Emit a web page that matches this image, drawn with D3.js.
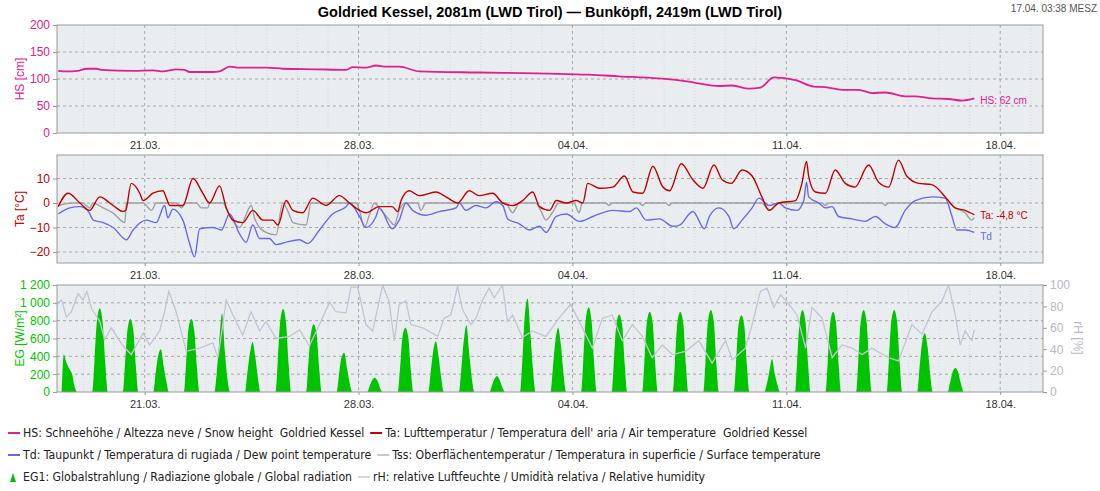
<!DOCTYPE html>
<html><head><meta charset="utf-8">
<script src="https://cdn.jsdelivr.net/npm/d3@7"></script>
<style>body{margin:0;background:#fff}svg{font-family:"Liberation Sans",Arial,sans-serif}</style>
</head><body><svg id="c" width="1100" height="491"></svg>
<script>
// time = days after 21.03. 00:00
const dateTicks=[0,7,14,21,28];
const dateLabels=["21.03.","28.03.","04.04.","11.04.","18.04."];
const hs=[[-2.83,115],[-2.56,114],[-2.2,115],[-1.9,119],[-1.58,119],[-1.41,117],[-0.38,115],[0.27,116],[0.6,114],[1.03,118],[1.3,117],[1.47,113],[2.23,113],[2.45,114],[2.78,123],[3.1,121],[3.98,121],[4.52,119],[5.61,118],[6.59,117],[6.81,122],[7.24,121],[7.57,125],[7.9,123],[8.33,123],[8.99,114],[10.95,112],[13.24,110],[14.54,108],[15.52,105],[16.83,101],[17.81,95],[18.14,92],[18.79,87],[19.23,88],[19.77,82],[20.15,84],[20.59,103],[21.3,98],[21.9,86],[22.28,85],[22.82,80],[23.37,80],[23.8,74],[24.24,75],[24.89,68],[25.22,68],[25.77,64],[26.31,63],[26.75,60],[27.15,64]];
const ta=[[-2.83,-1.5],[-2.51,4],[-2.12,0],[-1.8,-3],[-1.47,2.5],[-1.14,0],[-0.93,-2],[-0.71,-3.5],[-0.62,-3],[-0.44,8],[-0.16,4],[-0.05,1],[0.27,4],[0.6,5],[0.71,2],[0.82,-1],[1.25,-1],[1.58,10],[1.9,4],[2.12,0],[2.45,7],[2.67,-2],[2.89,-7],[3.21,-8],[3.54,-3],[3.87,-7],[4.19,-7],[4.36,-9],[4.63,1],[4.85,-3],[5.17,-4],[5.5,2],[5.94,-1],[6.37,3],[6.7,0],[7.03,-3],[7.24,-4],[7.68,-1.5],[8.1,-1.5],[8.28,-3.5],[8.39,1],[8.66,5],[8.99,3],[9.53,4.5],[9.86,2.5],[10.24,0],[10.62,5],[10.95,3],[11.39,4],[11.72,0],[12.05,-1],[12.37,1],[12.7,4.5],[12.92,-1.5],[13.25,-3],[13.47,1],[13.8,0],[14.12,1],[14.34,0],[14.5,8],[14.89,6],[15.32,6.5],[15.7,11],[15.98,4.5],[16.3,4],[16.63,15],[16.96,6.5],[17.18,5],[17.56,16],[17.94,9.5],[18.27,6],[18.63,15.5],[18.9,9.5],[19.2,8],[19.55,13.5],[19.88,11],[20.2,2.5],[20.43,-3],[20.75,0],[21.3,1],[21.51,8],[21.66,17],[21.73,11],[21.95,4.5],[22.28,4],[22.6,13.5],[22.93,8],[23.25,6.5],[23.69,15.5],[24.02,8.5],[24.35,6.5],[24.67,17.5],[24.94,11],[25.33,8],[25.76,7.5],[26.3,1],[26.52,-2],[26.85,-3],[27.15,-4.8]];
const td=[[-2.83,-4.5],[-2.45,-2],[-2.12,-1.5],[-1.84,-3.5],[-1.68,-7],[-1.36,-8],[-1.03,-10],[-0.6,-15],[-0.38,-11],[0.05,-7],[0.38,-8],[0.65,-1],[0.76,-6],[0.92,-2.5],[1.25,-7],[1.47,-16.5],[1.63,-22],[1.8,-10.5],[2.23,-10],[2.51,-11],[2.78,-4.5],[3.1,-12.5],[3.32,-16],[3.54,-9],[3.76,-14.5],[4.08,-14.5],[4.3,-17],[4.63,-16],[5.06,-15],[5.34,-16.5],[5.72,-11],[6.15,-4.5],[6.59,-1.5],[6.7,0],[7.03,-5.5],[7.24,-10],[7.57,-5.5],[7.68,-2],[8.1,-10.5],[8.33,-7],[8.55,0],[8.77,-3],[9.2,-5],[9.64,-3.5],[10.19,-2],[10.3,0],[10.51,-3],[10.84,-1],[11.17,-2],[11.5,0.5],[11.72,-1],[11.88,-6.5],[12.26,-8.5],[12.59,-11],[12.92,-9.5],[13.14,-12],[13.47,-5.5],[13.8,-4.5],[14.23,-7.5],[14.67,-5.5],[15.32,-3],[15.87,-3.5],[16.09,-2],[16.41,-7],[16.85,-6.5],[17.29,-9.5],[17.51,-9],[17.94,-3.5],[18.32,-10.5],[18.48,-5.5],[18.79,-2],[19.12,-5.5],[19.28,-10.5],[19.55,-7],[19.88,-2],[20.1,2],[20.43,-1],[20.75,0],[20.97,-2],[21.35,-3],[21.57,1],[21.66,8.5],[21.73,2.5],[22.06,0],[22.28,-2],[22.5,-1.5],[22.71,-5.5],[23.15,-6.5],[23.58,-7.5],[23.91,-5.5],[24.24,-8.5],[24.56,-10],[24.89,-3],[25.22,1],[25.76,2.5],[26.2,2],[26.41,-5],[26.58,-11],[26.85,-11],[27.15,-12]];
const tss=[[-2.83,-1],[-2.34,0],[-2.02,0],[-1.8,-2],[-1.69,0],[-1.36,-2],[-1.04,-4],[-0.65,-8],[-0.6,0],[-0.05,0],[0.22,-3],[0.38,0],[1.03,0],[1.2,-2],[1.36,0],[1.69,0],[1.85,-2],[2.07,-2],[2.12,0],[2.56,0],[2.78,-5],[3.1,-10],[3.49,-1],[3.59,-6],[3.76,-10],[3.97,-12],[4.3,-13],[4.52,0],[4.74,-5],[4.85,-8],[5.28,-9],[5.45,0],[6.92,0],[7.03,-3],[7.19,-10],[7.35,-5],[7.52,0],[7.68,-2],[8.01,-7],[8.17,-9],[8.33,-3],[8.5,0],[8.93,0],[9.04,-3],[9.2,0],[11.82,0],[12.04,-4],[12.26,0],[12.8,0],[12.96,-3],[13.13,-7],[13.34,-4],[13.56,0],[14.05,0],[14.22,-4],[14.32,0],[15.09,0],[15.2,-1],[15.3,0],[16.18,0],[16.29,-1],[16.4,0],[17.05,0],[17.16,-1],[17.27,0],[20.21,0],[20.32,-1.5],[20.48,-3],[20.75,0],[22.17,0],[22.28,-1],[22.39,0],[24.13,0],[24.24,-1],[24.35,0],[26.31,0],[26.53,-2],[26.85,-4],[27.07,-7],[27.15,-6]];
const rh=[[-2.87,83],[-2.72,86],[-2.56,70],[-2.4,75],[-2.18,92],[-2.02,86],[-1.89,94],[-1.74,78],[-1.47,66],[-1.31,49],[-1.09,60],[-0.71,43],[-0.44,35],[-0.05,55],[0.16,44],[0.49,57],[0.65,75],[0.79,94],[1.03,75],[1.36,38],[1.8,41],[2.23,46],[2.4,32],[2.67,86],[2.89,72],[3.21,53],[3.48,75],[3.76,57],[3.97,66],[4.3,50],[4.74,52],[5.07,58],[5.39,43],[5.72,63],[6.05,84],[6.26,75],[6.59,74],[6.75,98],[6.97,98],[7.24,63],[7.46,57],[7.79,100],[8.0,84],[8.17,48],[8.33,82],[8.55,85],[8.71,63],[9.1,60],[9.59,52],[9.8,69],[10.02,72],[10.24,99],[10.4,77],[10.68,63],[10.84,69],[11.06,86],[11.27,97],[11.44,88],[11.71,100],[11.87,66],[12.04,72],[12.36,51],[12.69,57],[13.13,52],[13.56,69],[13.94,82],[14.22,66],[14.65,41],[14.98,69],[15.3,72],[15.63,48],[15.96,63],[16.29,52],[16.61,32],[16.94,44],[17.27,35],[17.7,38],[18.14,48],[18.57,27],[19.01,48],[19.23,30],[19.66,41],[19.88,63],[20.15,94],[20.37,97],[20.59,79],[20.81,91],[21.08,82],[21.35,72],[21.63,41],[21.84,79],[22.17,69],[22.5,32],[22.82,44],[23.15,41],[23.48,35],[23.8,41],[24.35,32],[24.67,29],[25.11,63],[25.44,54],[25.77,75],[26.09,85],[26.31,100],[26.53,72],[26.69,44],[26.85,57],[27.07,48],[27.15,58]];
// global radiation per day: values at 08:30,10:30,12:45,15:00,17:00 h
const egHours=[8.5,10.5,12.75,15,17];
const egDays=[-3,-2,-1,0,1,2,3,4,5,6,7,8,9,10,11,12,13,14,15,16,17,18,19,20,21,22,23,24,25,26];
const egVals=[[420,330,260,200,60],[330,800,940,780,330],[300,700,820,700,300],[200,400,480,280,120],[320,720,820,680,280],[200,550,880,450,150],[200,420,560,380,150],[340,800,930,780,320],[300,650,760,660,280],[180,380,440,260,100],[60,130,160,120,40],[250,620,720,620,250],[200,450,570,380,150],[220,560,750,420,150],[60,140,180,130,50],[320,850,1050,650,250],[250,560,720,520,200],[350,820,950,800,330],[330,760,870,760,320],[330,790,900,780,320],[330,790,900,780,320],[340,800,920,790,330],[320,760,860,740,300],[80,220,370,200,80],[340,800,920,790,330],[330,780,900,780,320],[340,800,920,790,330],[340,800,920,790,330],[250,540,660,500,200],[100,220,270,220,100]];

const svg=d3.select("#c");
const L=57,R=1043;
const x=d3.scaleLinear().domain([-2.87,29.4]).range([L,R]);
const C={hs:"#e0208c",ta:"#c00000",td:"#6a6ae6",tss:"#a0a0a0",rh:"#c4c4d4",eg:"#00c400",grid:"#a8a8a8"};
svg.append("text").attr("x",550).attr("y",17).attr("text-anchor","middle").attr("font-weight","bold").attr("font-size",14.5).text("Goldried Kessel, 2081m (LWD Tirol) — Bunköpfl, 2419m (LWD Tirol)");
svg.append("text").attr("x",1097).attr("y",12).attr("text-anchor","end").attr("font-size",10).attr("fill","#555").text("17.04. 03:38 MESZ");

function panel(top,bot,y,ticks,fmt,col,label){
  const g=svg.append("g");
  g.append("rect").attr("x",L).attr("y",top).attr("width",R-L).attr("height",bot-top).attr("fill","#e9edf0");
  for(let d=-2;d<=29;d++){ if(dateTicks.includes(d))continue;
    g.append("line").attr("x1",x(d)).attr("x2",x(d)).attr("y1",top).attr("y2",bot).attr("stroke","#d6dadd").attr("stroke-dasharray","1,2");}
  dateTicks.forEach(d=>g.append("line").attr("x1",x(d)).attr("x2",x(d)).attr("y1",top).attr("y2",bot).attr("stroke",C.grid).attr("stroke-dasharray","3,3"));
  ticks.forEach(v=>{ if(y(v)>top+1&&y(v)<bot-1) g.append("line").attr("x1",L).attr("x2",R).attr("y1",y(v)).attr("y2",y(v)).attr("stroke",C.grid).attr("stroke-dasharray","3,3");});
  const ax=g.append("g").attr("transform",`translate(${L},0)`).call(d3.axisLeft(y).tickValues(ticks).tickFormat(fmt).tickSize(4));
  ax.select(".domain").remove();ax.selectAll("line").attr("stroke","#999");
  ax.selectAll("text").attr("fill",col).attr("font-size",12).attr("font-family","Liberation Sans, Arial");
  const xa=g.append("g").attr("transform",`translate(0,${bot})`).call(d3.axisBottom(x).tickValues(dateTicks).tickFormat((d,i)=>dateLabels[i]).tickSize(3));
  xa.select(".domain").remove();xa.selectAll("line").attr("stroke","#999");
  xa.selectAll("text").attr("font-size",11).attr("fill","#333").attr("font-family","Liberation Sans, Arial").attr("dy","0.9em");
  svg.append("text").attr("transform",`translate(24,${(top+bot)/2}) rotate(-90)`).attr("text-anchor","middle").attr("fill",col).attr("font-size",12).text(label);
  return g;
}
function frame(top,bot){svg.append("rect").attr("x",L).attr("y",top).attr("width",R-L).attr("height",bot-top).attr("fill","none").attr("stroke","#9a9a9a");}
function clip(id,top,bot){svg.append("clipPath").attr("id",id).append("rect").attr("x",L).attr("y",top).attr("width",R-L).attr("height",bot-top);}

// Panel 1
const y1=d3.scaleLinear().domain([0,200]).range([133,25]);
panel(25,133,y1,[0,50,100,150,200],d3.format("d"),C.hs,"HS [cm]");
svg.append("path").datum(hs).attr("fill","none").attr("stroke",C.hs).attr("stroke-width",1.8)
 .attr("d",d3.line().x(d=>x(d[0])).y(d=>y1(d[1])).curve(d3.curveMonotoneX));
frame(25,133);
svg.append("text").attr("x",x(27.15)+6).attr("y",y1(62)+4).attr("fill",C.hs).attr("font-size",10).text("HS: 62 cm");

// Panel 2
const y2=d3.scaleLinear().domain([-24.5,19.6]).range([263,155]);
panel(155,263,y2,[-20,-10,0,10],d3.format("d"),C.ta,"Ta [°C]");
clip("c2",155,263);
const ln=d3.line().x(d=>x(d[0])).y(d=>y2(d[1])).curve(d3.curveMonotoneX);
[[tss,C.tss],[td,C.td],[ta,C.ta]].forEach(([s,c])=>svg.append("path").datum(s).attr("clip-path","url(#c2)").attr("fill","none").attr("stroke",c).attr("stroke-width",1.4).attr("d",ln));
frame(155,263);
svg.append("text").attr("x",x(27.15)+6).attr("y",y2(-4.8)+4).attr("fill",C.ta).attr("font-size",10).text("Ta: -4,8 °C");
svg.append("text").attr("x",x(27.15)+6).attr("y",y2(-12)+8).attr("fill",C.td).attr("font-size",10).text("Td");

// Panel 3
const y3=d3.scaleLinear().domain([0,1200]).range([392,285]);
const y3r=d3.scaleLinear().domain([0,100]).range([392,285]);
panel(285,392,y3,[0,200,400,600,800,1000,1200],v=>d3.format(",")(v).replace(","," "),C.eg,"EG [W/m²]");
clip("c3",285,392);
const egPts=[];
egDays.forEach((d,i)=>{egPts.push([d+6.8/24,0]);egHours.forEach((h,j)=>egPts.push([d+h/24,egVals[i][j]]));egPts.push([d+19/24,0]);});
svg.append("path").datum(egPts).attr("clip-path","url(#c3)").attr("fill",C.eg)
 .attr("d",d3.area().x(d=>x(d[0])).y0(392).y1(d=>y3(Math.max(0,d[1]))).curve(d3.curveMonotoneX));
svg.append("path").datum(rh).attr("clip-path","url(#c3)").attr("fill","none").attr("stroke",C.rh).attr("stroke-width",1.3)
 .attr("d",d3.line().x(d=>x(d[0])).y(d=>y3r(d[1])));
frame(285,392);
const ra=svg.append("g").attr("transform",`translate(${R},0)`).call(d3.axisRight(y3r).tickValues([0,20,40,60,80,100]).tickSize(4));
ra.select(".domain").remove();ra.selectAll("line").attr("stroke","#999");ra.selectAll("text").attr("fill","#b8b8c4").attr("font-size",12);
svg.append("text").attr("transform",`translate(1074,338) rotate(90)`).attr("text-anchor","middle").attr("fill","#b8b8c4").attr("font-size",12).text("rH [%]");

// Legend
const leg=[[["line",C.hs,"HS: Schneehöhe / Altezza neve / Snow height  Goldried Kessel"],["line",C.ta,"Ta: Lufttemperatur / Temperatura dell' aria / Air temperature  Goldried Kessel"]],
 [["line",C.td,"Td: Taupunkt / Temperatura di rugiada / Dew point temperature"],["line","#c8c8c8","Tss: Oberflächentemperatur / Temperatura in superficie / Surface temperature"]],
 [["tri",C.eg,"EG1: Globalstrahlung / Radiazione globale / Global radiation"],["line","#d4d4dc","rH: relative Luftfeuchte / Umidità relativa / Relative humidity"]]];
leg.forEach((row,r)=>{let cx=8;const yy=433+r*22;
 row.forEach(([k,c,t])=>{
  if(k==="line")svg.append("line").attr("x1",cx).attr("x2",cx+12).attr("y1",yy).attr("y2",yy).attr("stroke",c).attr("stroke-width",2);
  else svg.append("path").attr("d",`M${cx+2},${yy+5}L${cx+5},${yy-4}L${cx+8},${yy+5}Z`).attr("fill",c);
  const tx=svg.append("text").attr("x",cx+15).attr("y",yy+4).attr("font-size",12.2).attr("fill","#222")
   .attr("font-family","'Liberation Sans Narrow','DejaVu Sans Condensed',Arial").attr("xml:space","preserve").text(t);
  cx+=15+tx.node().getComputedTextLength()+6;});});
</script></body></html>
